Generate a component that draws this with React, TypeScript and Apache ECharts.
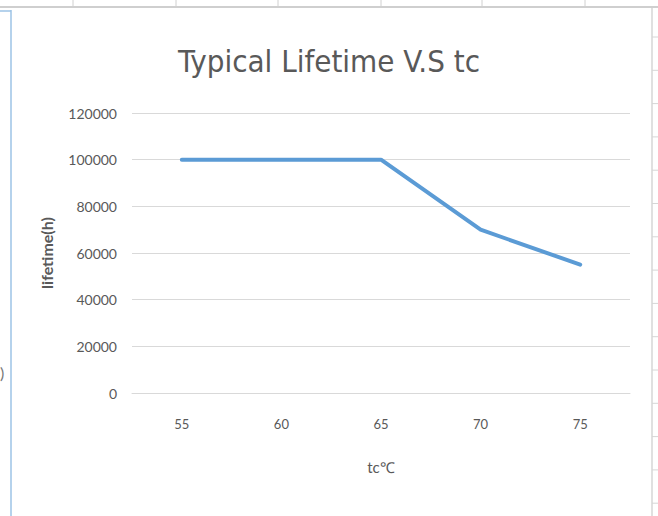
import React, { useEffect, useRef } from "react";
import * as echarts from "echarts";

const categories = ["55", "60", "65", "70", "75"];
const lifetimeValues = [100000, 100000, 100000, 70000, 55000];
const yTicks = { min: 0, max: 120000, interval: 20000 };
const titleText = "Typical Lifetime V.S tc";
const xName = "tc℃";
const yName = "lifetime(h)";

const W = 658;
const H = 516;
const FONT = "Lato, 'Open Sans', sans-serif";
const TITLE_FONT = "'DejaVu Sans Condensed', sans-serif";
const TXT = "#595959";

export default function App() {
  const ref = useRef<HTMLDivElement>(null);
  useEffect(() => {
    if (!ref.current) return;
    const chart = echarts.init(ref.current, null, { renderer: "svg" });
    const graphics: any[] = [];
    graphics.push({ type: "line", shape: { x1: 0, y1: 7, x2: W, y2: 7 }, style: { stroke: "#cfcfcf", lineWidth: 2 } });
    [73, 176, 278, 381, 482, 585].forEach((x) =>
      graphics.push({ type: "line", shape: { x1: x, y1: 0, x2: x, y2: 6 }, style: { stroke: "#d0d0d0", lineWidth: 1 } })
    );
    graphics.push({ type: "line", shape: { x1: 652, y1: 8, x2: 652, y2: H }, style: { stroke: "#d6d6d6", lineWidth: 1.5 } });
    for (let y = 37; y < H; y += 33.3) {
      graphics.push({ type: "line", shape: { x1: 652, y1: y, x2: W, y2: y }, style: { stroke: "#d6d6d6", lineWidth: 1 } });
    }
    graphics.push({ type: "line", shape: { x1: 11, y1: 10, x2: 11, y2: H }, style: { stroke: "#9cc3e6", lineWidth: 1.5 } });
    graphics.push({ type: "line", shape: { x1: 0, y1: 11, x2: 11, y2: 11 }, style: { stroke: "#9cc3e6", lineWidth: 1.5 } });
    graphics.push({ type: "text", left: 0, top: 364, style: { text: ")", fontSize: 16, fill: "#777", fontFamily: FONT } });

    chart.setOption({
      animation: false,
      backgroundColor: "#ffffff",
      title: {
        text: titleText,
        left: "center",
        top: 40,
        textStyle: { fontFamily: TITLE_FONT, fontSize: 31, fontWeight: "normal", color: TXT },
      },
      grid: { left: 132, right: 28, top: 113, bottom: 123, containLabel: false },
      xAxis: {
        type: "category",
        data: categories,
        boundaryGap: true,
        name: xName,
        nameLocation: "middle",
        nameGap: 66,
        nameTextStyle: { fontFamily: FONT, fontSize: 15, color: TXT },
        axisLine: { show: true, lineStyle: { color: "#d9d9d9", width: 1 } },
        axisTick: { show: false },
        axisLabel: { margin: 24, fontFamily: FONT, fontSize: 13, color: TXT },
        splitLine: { show: false },
      },
      yAxis: {
        type: "value",
        min: yTicks.min,
        max: yTicks.max,
        interval: yTicks.interval,
        name: yName,
        nameLocation: "middle",
        nameGap: 78,
        nameTextStyle: { fontFamily: FONT, fontSize: 16, fontWeight: "bold", color: TXT },
        axisLine: { show: false },
        axisTick: { show: false },
        axisLabel: { margin: 15, fontFamily: FONT, fontSize: 14, color: TXT, formatter: (v: number) => String(v) },
        splitLine: { show: true, lineStyle: { color: "#d9d9d9", width: 1 } },
      },
      series: [
        {
          type: "line",
          data: lifetimeValues,
          symbol: "none",
          lineStyle: { color: "#5b9bd5", width: 4, cap: "round", join: "round" },
        },
      ],
      graphic: graphics,
    });
    return () => chart.dispose();
  }, []);
  return <div ref={ref} style={{ position: "fixed", left: 0, top: 0, width: W, height: H }} />;
}
